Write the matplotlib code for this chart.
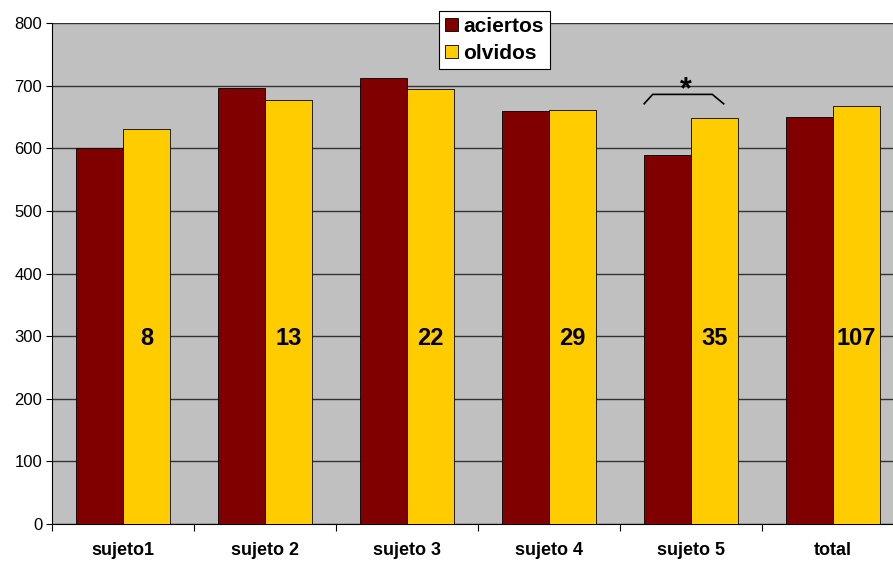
import numpy as np
import matplotlib.pyplot as plt

categorias = ['sujeto1', 'sujeto 2', 'sujeto 3', 'sujeto 4', 'sujeto 5', 'total']
aciertos = [601, 696, 712, 660, 589, 650]
olvidos = [631, 677, 695, 661, 648, 667]
n_ensayos = ['8', '13', '22', '29', '35', '107']

plt.rcParams['font.family'] = ['Liberation Sans', 'DejaVu Sans']

fig = plt.figure(figsize=(8.93, 5.62), dpi=100)
# the original chart is cut off at the right edge
ax = fig.add_axes([52/893, 38/562, 852/893, 501/562])

x = np.arange(len(categorias))
w = 0.33
ax.set_facecolor('#C0C0C0')
ax.bar(x - w/2, aciertos, width=w, color='#800000', edgecolor='black', linewidth=0.6, label='aciertos', zorder=3)
ax.bar(x + w/2, olvidos, width=w, color='#FFCC00', edgecolor='black', linewidth=0.6, label='olvidos', zorder=3)

for xi, t in zip(x, n_ensayos):
    ax.text(xi + w/2, 297, t, ha='center', va='center', fontsize=17, fontweight='bold', zorder=4)

# significance bracket over sujeto 5
i = 4
ax.plot([i - 0.33, i - 0.27, i + 0.15, i + 0.23], [671, 686, 686, 671], color='black', lw=1.2, zorder=4)
ax.text(i - 0.04, 693, '*', ha='center', va='center', fontsize=22, fontweight='bold', zorder=4)

ax.set_xlim(-0.5, 5.5)
ax.set_ylim(0, 800)
ax.set_yticks(range(0, 801, 100))
ax.yaxis.grid(True, color='#333333', linewidth=1.0, zorder=0)
ax.set_axisbelow(True)
ax.tick_params(axis='y', labelsize=12, length=4, width=0.8, pad=3)

ax.set_xticks(x)
ax.set_xticklabels(categorias, fontsize=13, fontweight='bold')
ax.tick_params(axis='x', length=0, pad=13)
ax.set_xticks(np.arange(-0.5, 6, 1), minor=True)
ax.tick_params(axis='x', which='minor', length=5, width=0.8)

for s in ['top', 'right']:
    ax.spines[s].set_visible(False)
ax.spines['left'].set_linewidth(0.8)
ax.spines['bottom'].set_linewidth(0.8)

leg = ax.legend(loc='upper left', bbox_to_anchor=(387/852, 1.024), borderaxespad=0,
                prop={'size': 15, 'weight': 'bold'},
                frameon=True, fancybox=False, edgecolor='black', framealpha=1,
                handlelength=0.6, handleheight=0.6, handletextpad=0.25, borderpad=0.3, labelspacing=0.35)
leg.get_frame().set_linewidth(0.8)
leg.set_zorder(5)

plt.savefig('out.png', dpi=100)
